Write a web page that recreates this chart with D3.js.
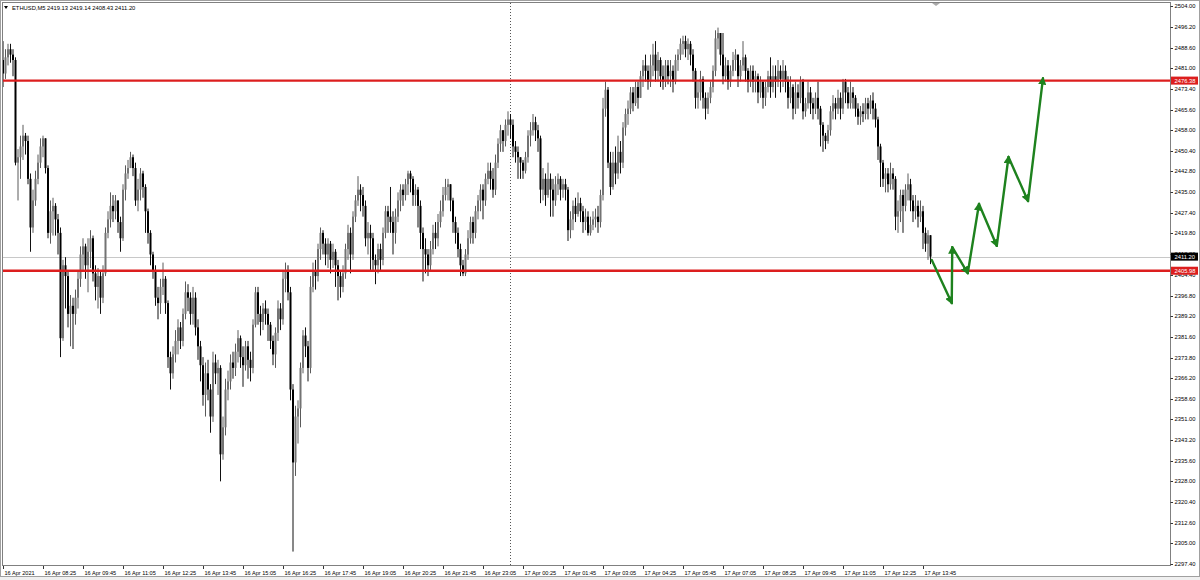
<!DOCTYPE html>
<html>
<head>
<meta charset="utf-8">
<title>ETHUSD,M5</title>
<script src="https://d3js.org/d3.v7.min.js"></script>
<style>
  body { margin: 0; background: #fff; }
  text { font-family: "Liberation Sans", Arial, sans-serif; }
</style>
</head>
<body>
<div id="chart"></div>
<script>
// ETHUSD M5 bars, 16 Apr 07:05 .. 17 Apr 14:00 (open of bar i = close of bar i-1)
var firstOpen = 2484;
var closes = [
  2479,2485,2488,2486,2484,2446,2448,2452,2456,2454,
  2440,2422,2432,2440,2446,2452,2455,2444,2420,2428,
  2430,2425,2420,2381,2408,2404,2390,2393,2390,2396,
  2403,2412,2415,2408,2413,2418,2405,2400,2404,2396,
  2405,2420,2425,2430,2428,2432,2424,2418,2436,2442,
  2444,2448,2444,2432,2436,2442,2437,2428,2420,2412,
  2406,2396,2394,2400,2403,2394,2374,2368,2375,2380,
  2385,2380,2390,2398,2396,2390,2396,2385,2378,2371,
  2360,2368,2362,2352,2372,2368,2370,2338,2348,2362,
  2365,2372,2370,2376,2381,2374,2371,2378,2373,2370,
  2386,2398,2390,2387,2392,2390,2386,2380,2375,2383,
  2392,2388,2403,2406,2398,2362,2335,2352,2355,2370,
  2382,2378,2370,2400,2406,2404,2414,2420,2416,2412,
  2416,2410,2413,2408,2404,2400,2405,2414,2420,2412,
  2426,2432,2436,2434,2430,2418,2420,2418,2410,2408,
  2414,2410,2420,2428,2426,2424,2420,2426,2432,2436,
  2434,2438,2442,2440,2434,2436,2430,2420,2414,2412,
  2408,2414,2420,2418,2424,2428,2434,2437,2438,2432,
  2424,2420,2414,2408,2405,2412,2418,2424,2420,2428,
  2432,2436,2432,2440,2443,2440,2436,2446,2453,2458,
  2454,2460,2462,2460,2452,2450,2448,2446,2443,2448,
  2456,2458,2461,2458,2455,2436,2440,2434,2440,2436,
  2432,2438,2440,2436,2438,2436,2421,2425,2430,2427,
  2431,2428,2424,2426,2420,2423,2425,2426,2424,2434,
  2466,2473,2446,2437,2446,2442,2450,2446,2459,2464,
  2466,2472,2468,2474,2470,2478,2482,2480,2476,2482,
  2486,2480,2484,2478,2476,2482,2478,2480,2476,2484,
  2486,2490,2491,2488,2490,2486,2480,2470,2472,2477,
  2470,2466,2470,2474,2480,2492,2494,2486,2478,2482,
  2476,2480,2484,2486,2478,2482,2485,2480,2476,2480,
  2476,2478,2472,2476,2470,2474,2478,2474,2478,2476,
  2480,2477,2480,2476,2470,2474,2466,2472,2470,2476,
  2465,2468,2472,2468,2466,2470,2466,2460,2456,2454,
  2458,2465,2468,2466,2470,2466,2476,2472,2468,2472,
  2470,2466,2463,2465,2464,2468,2466,2469,2466,2462,
  2452,2446,2440,2442,2438,2442,2440,2426,2428,2434,
  2430,2436,2438,2432,2428,2430,2426,2428,2420,2416,
  2419.13,2411.20
];
var highs = [
  2491,2488,2490,2490,2488,2485,2451,2456,2460,2457,
  2456,2442,2436,2443,2449,2455,2456,2455,2445,2432,
  2433,2431,2427,2422,2410,2411,2406,2397,2396,2399,
  2406,2415,2418,2416,2418,2421,2419,2408,2407,2406,
  2408,2422,2428,2435,2434,2434,2432,2426,2438,2445,
  2447,2450,2449,2446,2440,2444,2443,2438,2429,2421,
  2413,2408,2400,2403,2409,2404,2395,2376,2378,2384,
  2388,2387,2392,2402,2401,2398,2400,2398,2388,2380,
  2374,2372,2373,2364,2376,2375,2373,2371,2352,2366,
  2369,2375,2376,2379,2384,2382,2378,2380,2380,2376,
  2388,2400,2400,2393,2394,2395,2392,2387,2382,2385,
  2395,2394,2406,2409,2408,2400,2364,2356,2358,2372,
  2384,2385,2380,2404,2409,2410,2416,2422,2421,2418,
  2418,2417,2416,2414,2410,2406,2408,2416,2423,2422,
  2428,2434,2441,2438,2437,2432,2424,2423,2420,2412,
  2416,2416,2422,2430,2430,2437,2428,2429,2435,2438,
  2438,2440,2443,2443,2441,2438,2437,2432,2422,2418,
  2414,2417,2423,2424,2427,2432,2437,2440,2440,2438,
  2433,2426,2422,2416,2410,2414,2421,2426,2426,2430,
  2434,2438,2438,2442,2446,2446,2444,2449,2455,2460,
  2458,2462,2465,2464,2462,2454,2452,2448,2447,2450,
  2458,2461,2464,2463,2460,2456,2444,2442,2446,2442,
  2440,2441,2442,2441,2440,2440,2437,2428,2432,2433,
  2435,2433,2430,2429,2428,2426,2428,2429,2430,2436,
  2470,2476,2474,2450,2450,2452,2456,2454,2461,2466,
  2469,2474,2474,2476,2476,2480,2484,2486,2482,2486,
  2490,2491,2487,2485,2482,2484,2484,2484,2482,2486,
  2488,2492,2493,2493,2492,2491,2488,2481,2476,2480,
  2478,2472,2472,2476,2482,2495,2496,2494,2494,2485,
  2484,2482,2487,2488,2486,2484,2491,2486,2481,2482,
  2482,2480,2479,2478,2476,2476,2480,2485,2482,2482,
  2484,2482,2484,2482,2478,2478,2475,2476,2475,2478,
  2477,2470,2476,2474,2470,2472,2476,2467,2461,2457,
  2460,2467,2471,2470,2473,2472,2477,2477,2474,2476,
  2474,2471,2468,2467,2468,2470,2470,2471,2472,2468,
  2463,2453,2447,2444,2444,2446,2444,2441,2432,2436,
  2436,2438,2442,2440,2434,2434,2432,2432,2430,2422,
  2421,2419.14
];
var lows = [
  2474,2477,2482,2483,2478,2445,2432,2440,2447,2449,
  2438,2413,2420,2430,2438,2444,2448,2442,2418,2416,
  2419,2419,2412,2374,2380,2392,2385,2378,2377,2386,
  2392,2400,2406,2403,2398,2407,2402,2395,2392,2390,
  2394,2404,2418,2422,2424,2425,2420,2413,2417,2432,
  2440,2444,2441,2430,2428,2432,2433,2420,2416,2408,
  2403,2393,2388,2390,2397,2390,2370,2362,2366,2372,
  2375,2377,2378,2388,2391,2386,2386,2382,2373,2365,
  2356,2352,2358,2346,2350,2364,2360,2328,2336,2345,
  2358,2362,2366,2367,2372,2370,2363,2369,2366,2365,
  2368,2385,2386,2382,2384,2386,2380,2377,2371,2370,
  2380,2384,2386,2398,2395,2358,2302,2330,2342,2348,
  2368,2374,2365,2368,2398,2399,2402,2410,2412,2408,
  2407,2405,2407,2400,2395,2396,2398,2403,2410,2405,
  2410,2424,2430,2428,2426,2415,2412,2406,2406,2401,
  2405,2406,2408,2418,2420,2420,2412,2416,2424,2428,
  2430,2432,2434,2435,2430,2430,2422,2414,2402,2405,
  2404,2406,2412,2414,2415,2422,2426,2432,2432,2428,
  2420,2416,2411,2404,2404,2404,2410,2416,2416,2418,
  2425,2428,2425,2430,2438,2436,2433,2434,2444,2450,
  2450,2452,2456,2455,2448,2446,2440,2440,2440,2442,
  2446,2452,2456,2454,2450,2431,2432,2430,2433,2426,
  2426,2430,2434,2432,2433,2432,2417,2418,2421,2424,
  2426,2424,2420,2421,2419,2419,2421,2422,2420,2422,
  2432,2463,2444,2434,2436,2438,2440,2442,2444,2456,
  2460,2464,2465,2467,2466,2470,2474,2476,2473,2474,
  2478,2476,2476,2474,2473,2474,2475,2474,2472,2475,
  2480,2484,2486,2485,2484,2482,2476,2466,2466,2469,
  2466,2462,2464,2468,2472,2478,2488,2482,2475,2476,
  2473,2474,2478,2480,2474,2476,2480,2476,2472,2474,
  2472,2472,2468,2470,2466,2467,2472,2470,2472,2470,
  2474,2472,2474,2472,2466,2468,2462,2464,2466,2468,
  2462,2463,2466,2464,2462,2464,2462,2452,2450,2451,
  2453,2456,2462,2462,2464,2462,2464,2468,2466,2466,
  2466,2463,2460,2460,2461,2462,2462,2464,2462,2459,
  2447,2437,2437,2435,2435,2436,2436,2421,2420,2424,
  2420,2428,2432,2428,2424,2425,2422,2424,2414,2413,
  2410,2408.43
];

// time axis labels, one every 16 bars (80 min)
var timeLabels = ["16 Apr 2021","16 Apr 08:25","16 Apr 09:45","16 Apr 11:05","16 Apr 12:25",
  "16 Apr 13:45","16 Apr 15:05","16 Apr 16:25","16 Apr 17:45","16 Apr 19:05","16 Apr 20:25",
  "16 Apr 21:45","16 Apr 23:05","17 Apr 00:25","17 Apr 01:45","17 Apr 03:05","17 Apr 04:25",
  "17 Apr 05:45","17 Apr 07:05","17 Apr 08:25","17 Apr 09:45","17 Apr 11:05","17 Apr 12:25",
  "17 Apr 13:45"];
var barsPerLabel = 16;
var daySeparatorBar = 203; // 17 Apr 00:00

var priceTicks = [2504.00,2496.20,2488.60,2481.00,2473.40,2465.60,2458.00,2450.40,2442.80,
  2435.00,2427.40,2419.80,2412.20,2404.40,2396.80,2389.20,2381.60,2373.80,2366.20,2358.60,
  2351.00,2343.20,2335.60,2328.00,2320.40,2312.60,2305.00,2297.40];

var levels = [2476.38, 2405.98];
var bidPrice = 2411.20;

// hand drawn forecast zigzag (bar index, price)
var arrowBars   = [371.5, 379.5, 379.7, 385.9, 390.4, 397.5, 402.2, 410.0, 416.0];
var arrowPrices = [2410.0, 2394.0, 2414.7, 2405.1, 2430.7, 2415.2, 2448.1, 2431.8, 2477.3];

var W = 1200, H = 580;
var pL = 3, pR = 1170, pT = 3, pB = 565;

var svg = d3.select("#chart").append("svg")
  .attr("width", W).attr("height", H);

var x = d3.scaleLinear().domain([0, 371]).range([3, 930.5]);
var y = d3.scaleLinear().domain([2297.4, 2504]).range([564, 6]);

// window background and border
svg.append("rect").attr("x", 0).attr("y", 0).attr("width", W).attr("height", H).attr("fill", "#fff");
svg.append("rect").attr("x", 0).attr("y", 576).attr("width", W).attr("height", 4).attr("fill", "#f0f0f0");
svg.append("rect").attr("x", 0.5).attr("y", 0.5).attr("width", W - 1).attr("height", 576)
  .attr("fill", "none").attr("stroke", "#a0a0a0");

svg.append("clipPath").attr("id", "plot")
  .append("rect").attr("x", pL).attr("y", pT).attr("width", pR - pL).attr("height", pB - pT);
var plot = svg.append("g").attr("clip-path", "url(#plot)");

// day separator
plot.append("line")
  .attr("x1", x(daySeparatorBar)).attr("x2", x(daySeparatorBar))
  .attr("y1", pT).attr("y2", pB)
  .attr("stroke", "#555").attr("stroke-width", 1).attr("stroke-dasharray", "1,2");

// bid line
plot.append("line").attr("x1", pL).attr("x2", pR)
  .attr("y1", Math.round(y(bidPrice)) + 0.5).attr("y2", Math.round(y(bidPrice)) + 0.5)
  .attr("stroke", "#c8c8c8").attr("stroke-width", 1);

// candles
var bars = closes.map(function(c, i) {
  return { i: i, o: i === 0 ? firstOpen : closes[i - 1], h: highs[i], l: lows[i], c: c };
});

plot.selectAll("line.wick").data(bars).enter().append("line")
  .attr("class", "wick")
  .attr("x1", function(d) { return x(d.i); })
  .attr("x2", function(d) { return x(d.i); })
  .attr("y1", function(d) { return y(Math.max(d.h, d.o, d.c)); })
  .attr("y2", function(d) { return y(Math.min(d.l, d.o, d.c)); })
  .attr("stroke", function(d) { return d.c >= d.o ? "#5a5a5a" : "#111"; })
  .attr("stroke-width", 1);

plot.selectAll("rect.body").data(bars).enter().append("rect")
  .attr("class", "body")
  .attr("x", function(d) { return x(d.i) - 1; })
  .attr("width", 2)
  .attr("y", function(d) { return y(Math.max(d.o, d.c)); })
  .attr("height", function(d) { return Math.max(0.8, Math.abs(y(d.o) - y(d.c))); })
  .attr("fill", function(d) { return d.c >= d.o ? "#737373" : "#000"; });

// support / resistance lines
plot.selectAll("line.level").data(levels).enter().append("line")
  .attr("class", "level")
  .attr("x1", pL).attr("x2", pR)
  .attr("y1", function(d) { return y(d); }).attr("y2", function(d) { return y(d); })
  .attr("stroke", "#dc1e1e").attr("stroke-width", 2.4);

// forecast arrows
var defs = svg.append("defs");
defs.append("marker").attr("id", "head")
  .attr("viewBox", "0 0 10 10").attr("refX", 8).attr("refY", 5)
  .attr("markerWidth", 3.4).attr("markerHeight", 3.4)
  .attr("markerUnits", "strokeWidth").attr("orient", "auto")
  .append("path").attr("d", "M0,0 L10,5 L0,10 Z").attr("fill", "#1e821e");

var pts = arrowBars.map(function(b, k) { return [x(b), y(arrowPrices[k])]; });
for (var k = 1; k < pts.length; k++) {
  plot.append("line")
    .attr("x1", pts[k - 1][0]).attr("y1", pts[k - 1][1])
    .attr("x2", pts[k][0]).attr("y2", pts[k][1])
    .attr("stroke", "#1e821e").attr("stroke-width", 2.4)
    .attr("stroke-linecap", "round")
    .attr("marker-end", "url(#head)");
}

// chart border
svg.append("rect").attr("x", pL - 0.5).attr("y", pT - 0.5)
  .attr("width", pR - pL + 1).attr("height", pB - pT + 1)
  .attr("fill", "none").attr("stroke", "#808080");

// price axis
var pa = svg.append("g");
pa.selectAll("line").data(priceTicks).enter().append("line")
  .attr("x1", pR + 0.5).attr("x2", pR + 3)
  .attr("y1", function(d) { return Math.round(y(d)) + 0.5; })
  .attr("y2", function(d) { return Math.round(y(d)) + 0.5; })
  .attr("stroke", "#333");
pa.selectAll("text").data(priceTicks).enter().append("text")
  .attr("x", pR + 4.5)
  .attr("y", function(d) { return y(d) + 2; })
  .attr("font-size", 5.8).attr("fill", "#000")
  .text(function(d) { return d.toFixed(2); });

// time axis
var ta = svg.append("g");
ta.selectAll("line").data(timeLabels).enter().append("line")
  .attr("x1", function(d, k) { return Math.round(x(k * barsPerLabel)) + 0.5; })
  .attr("x2", function(d, k) { return Math.round(x(k * barsPerLabel)) + 0.5; })
  .attr("y1", pB + 1).attr("y2", pB + 4)
  .attr("stroke", "#333");
ta.selectAll("text").data(timeLabels).enter().append("text")
  .attr("x", function(d, k) { return x(k * barsPerLabel) + 1.5; })
  .attr("y", 574.5)
  .attr("font-size", 5.6).attr("fill", "#000")
  .text(function(d) { return d; });

// price labels for levels and bid
function priceBox(p, bg) {
  var g = svg.append("g");
  g.append("rect").attr("x", pR + 1).attr("y", y(p) - 4)
    .attr("width", 27).attr("height", 8).attr("fill", bg);
  g.append("text").attr("x", pR + 4.5).attr("y", y(p) + 2)
    .attr("font-size", 5.8).attr("fill", "#fff").text(p.toFixed(2));
}
levels.forEach(function(p) { priceBox(p, "#dc1e1e"); });
priceBox(bidPrice, "#000");

// header
svg.append("path").attr("d", "M4,6 L8,6 L6,9 Z").attr("fill", "#000");
svg.append("text").attr("x", 12).attr("y", 10).attr("font-size", 5.8).attr("fill", "#000")
  .text("ETHUSD,M5  " + [closes[370], highs[371], lows[371], closes[371]].map(function(v) { return v.toFixed(2); }).join(" "));

// chart shift marker
svg.append("path").attr("d", "M932,3 L940,3 L936,6 Z").attr("fill", "#aaa");
</script>
</body>
</html>
